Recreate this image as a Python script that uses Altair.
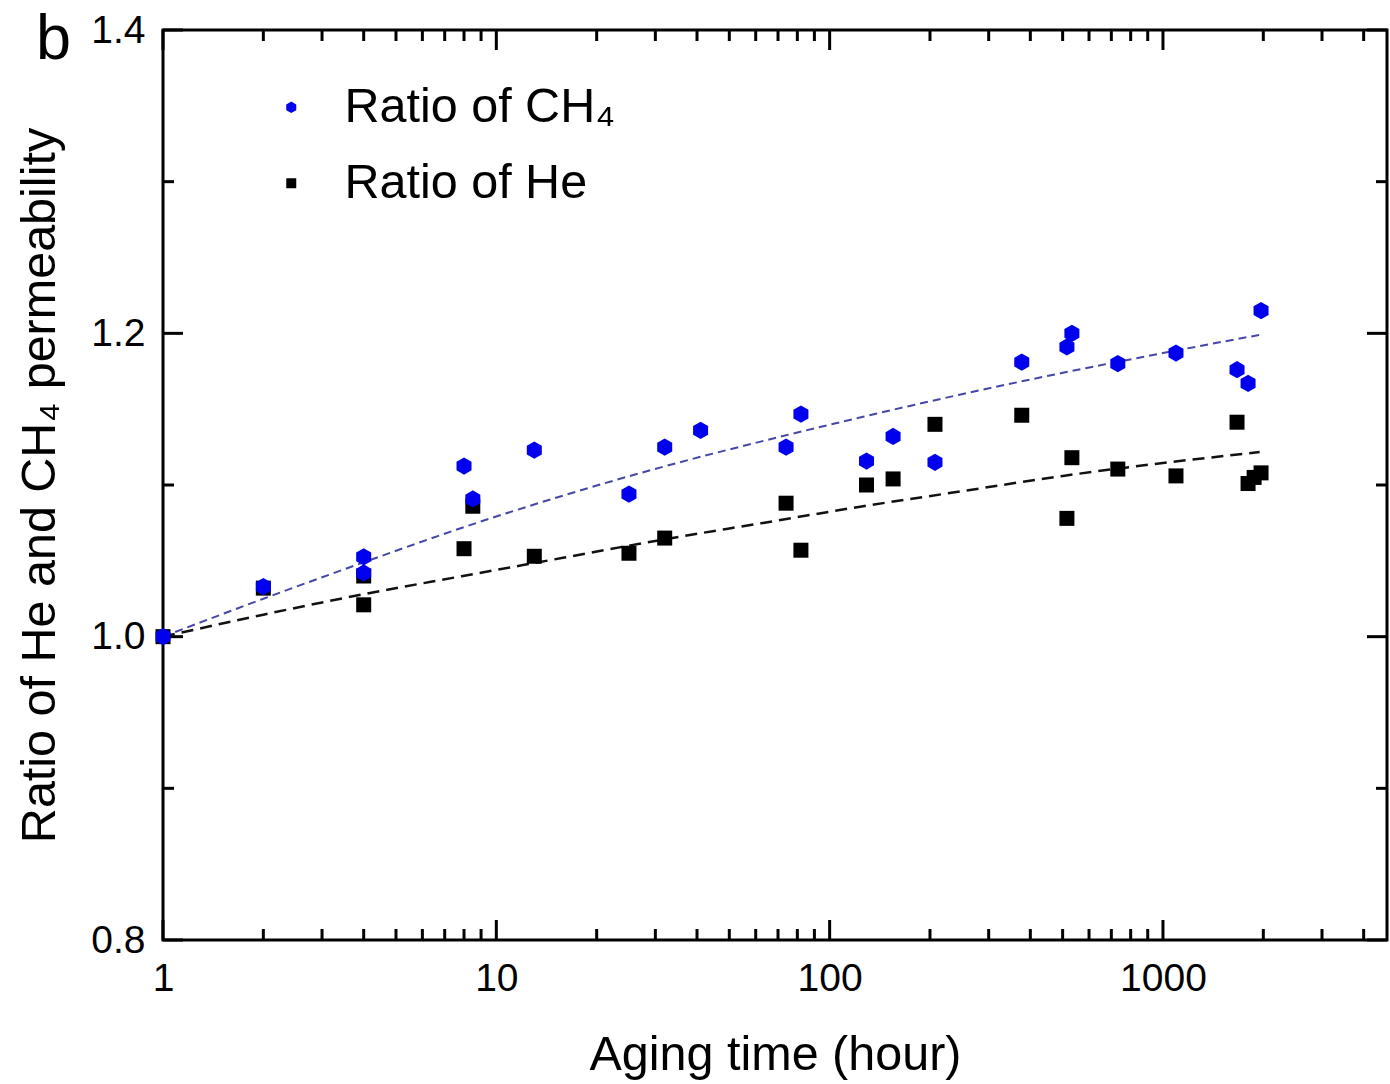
import altair as alt
import pandas as pd

# ---- data ----
ch4_label = "Ratio of CH\u2084"
he_label = "Ratio of He"

ch4_x = [1, 2, 4, 4, 8, 8.5, 13, 25, 32, 41, 74, 82, 129, 155, 207, 377, 515, 533, 732, 1094, 1668, 1800, 1969]
ch4_y = [1.0, 1.033, 1.0526, 1.042, 1.1125, 1.0908, 1.123, 1.094, 1.125, 1.136, 1.125, 1.1467, 1.1158, 1.132,
         1.115, 1.181, 1.191, 1.2, 1.18, 1.187, 1.176, 1.167, 1.215]

he_x = [1, 2, 4, 4, 8, 8.5, 13, 25, 32, 74, 82, 129, 155, 207, 377, 515, 533, 732, 1094, 1668, 1800, 1877, 1969]
he_y = [1.0, 1.032, 1.021, 1.04, 1.058, 1.086, 1.053, 1.055, 1.065, 1.088, 1.057, 1.1, 1.104, 1.14, 1.146,
        1.078, 1.118, 1.1105, 1.106, 1.1414, 1.101, 1.105, 1.108]

fit_x = [1, 2, 4, 7.94, 15.85, 31.6, 63.1, 126, 251, 501, 1000, 1950]
ch4_fit_y = [1.0, 1.025, 1.049, 1.072, 1.093, 1.112, 1.129, 1.145, 1.160, 1.174, 1.187, 1.199]
he_fit_y = [1.0, 1.0145, 1.028, 1.040, 1.052, 1.064, 1.075, 1.086, 1.096, 1.106, 1.1145, 1.1217]

x_major = [1, 10, 100, 1000]
x_minor = [2, 3, 4, 5, 6, 7, 8, 9, 20, 30, 40, 50, 60, 70, 80, 90,
           200, 300, 400, 500, 600, 700, 800, 900, 2000, 3000, 4000]
y_major = [0.8, 1.0, 1.2, 1.4]
y_minor = [0.9, 1.1, 1.3]
panel_label = ["b"]

x_title = "Aging time (hour)"
y_title = "Ratio of He and CH\u2084 permeability"

# ---- layout ----
W, H = 1224, 910
FONT = "Liberation Sans"
HEX = "M0,-1.15L1,-0.575L1,0.575L0,1.15L-1,0.575L-1,-0.575Z"

xs = alt.Scale(type="log", domain=[1, 4700], nice=False)
ys = alt.Scale(domain=[0.8, 1.4], nice=False, zero=False)

pts = pd.DataFrame({
    "x": he_x + ch4_x,
    "y": he_y + ch4_y,
    "series": [he_label] * len(he_x) + [ch4_label] * len(ch4_x),
})

x_axis = alt.Axis(values=x_major, format="d", tickSize=0, domain=False, grid=False,
                  labelFontSize=39, labelPadding=19, labelFlush=False, labelOverlap=False,
                  titleFontSize=48.5, titlePadding=33, titleFontWeight="normal")
y_axis = alt.Axis(values=y_major, format=".1f", tickSize=0, domain=False, grid=False,
                  labelFontSize=39, labelPadding=18, labelFlush=False, labelOverlap=False,
                  titleFontSize=48.5, titlePadding=26, titleFontWeight="normal")

x_enc = alt.X("x:Q", scale=xs, title=x_title, axis=x_axis)
y_enc = alt.Y("y:Q", scale=ys, title=y_title, axis=y_axis)

fits = pd.DataFrame({"x": fit_x, "y": ch4_fit_y})
fits_he = pd.DataFrame({"x": fit_x, "y": he_fit_y})

ch4_fit = alt.Chart(fits).mark_line(
    color="#4646a8", strokeWidth=2, strokeDash=[8, 5], interpolate="monotone"
).encode(x=x_enc, y=y_enc)

he_fit = alt.Chart(fits_he).mark_line(
    color="#111111", strokeWidth=2.5, strokeDash=[12, 7], interpolate="monotone"
).encode(x=x_enc, y=y_enc)

leg = alt.Legend(title=None, orient="none", legendX=104, legendY=53,
                 labelFontSize=48.5, labelFont=FONT, labelLimit=800, symbolSize=100,
                 rowPadding=27, labelOffset=29, padding=0, symbolStrokeWidth=0)

points = alt.Chart(pts).mark_point(filled=True, opacity=1, size=225, strokeWidth=0).encode(
    x=x_enc, y=y_enc,
    color=alt.Color("series:N",
                    scale=alt.Scale(domain=[ch4_label, he_label], range=["#0000ee", "#000000"]),
                    legend=leg),
    shape=alt.Shape("series:N",
                    scale=alt.Scale(domain=[ch4_label, he_label], range=[HEX, "square"]),
                    legend=leg),
)

def ticks_x(vals, y0, y1):
    return alt.Chart(pd.DataFrame({"x": vals})).mark_rule(color="black", strokeWidth=3).encode(
        x=x_enc, y=alt.value(y0), y2=alt.value(y1))

def ticks_y(vals, x0, x1):
    return alt.Chart(pd.DataFrame({"y": vals})).mark_rule(color="black", strokeWidth=3).encode(
        y=y_enc, x=alt.value(x0), x2=alt.value(x1))

tick_layers = [
    ticks_x(x_major, H, H - 20), ticks_x(x_minor, H, H - 11),
    ticks_x(x_major, 0, 20), ticks_x(x_minor, 0, 11),
    ticks_y(y_major, 0, 20), ticks_y(y_minor, 0, 11),
    ticks_y(y_major, W, W - 20), ticks_y(y_minor, W, W - 11),
]

label_b = alt.Chart(pd.DataFrame({"t": panel_label})).mark_text(
    fontSize=63, font=FONT, align="left", baseline="alphabetic", color="black"
).encode(text="t:N", x=alt.value(-127), y=alt.value(29))

chart = alt.layer(
    ch4_fit, he_fit, *tick_layers, points, label_b
).properties(
    width=W, height=H,
    padding={"left": 163, "top": 30, "right": 3, "bottom": 144},
    autosize=alt.AutoSizeParams(type="none"),
).configure(
    font=FONT,
).configure_view(
    stroke="black", strokeWidth=3
).configure_axis(
    labelColor="black", titleColor="black", labelFont=FONT, titleFont=FONT
).configure_legend(
    labelColor="black"
)

chart.save("out.html", embed_options={"renderer": "svg", "actions": False})
